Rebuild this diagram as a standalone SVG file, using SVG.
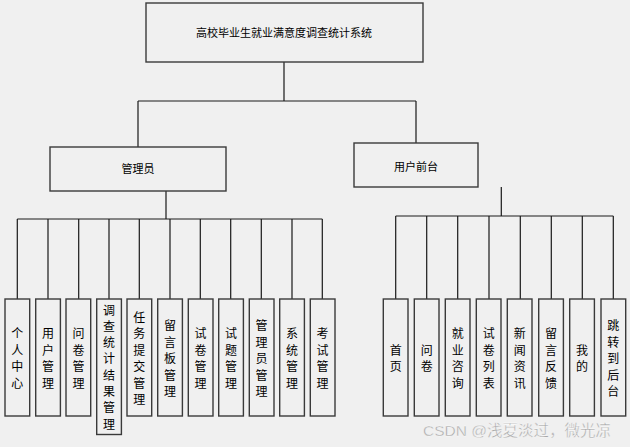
<svg xmlns="http://www.w3.org/2000/svg" width="630" height="447" viewBox="0 0 630 447">
<style>
.bg{fill:#f0f0f0}
.box{fill:#f0f0f0;stroke:#3a3a3a;stroke-width:1.4}
.ln{fill:none;stroke:#1a1a1a;stroke-width:1.2}
.t{font-family:"Noto Sans CJK SC","Liberation Sans",sans-serif;font-size:11px;fill:#000;text-anchor:middle;dominant-baseline:central}
.v{font-family:"Noto Sans CJK SC","Liberation Sans",sans-serif;font-size:12px;fill:#000;text-anchor:middle;dominant-baseline:central}
.wm{font-family:"Liberation Sans","Noto Sans CJK SC",sans-serif;font-size:15.5px;fill:#a8a8a8;stroke:#fff;stroke-width:0.3}
</style>
<rect class="bg" x="0" y="0" width="630" height="447"/>
<g id="connectors">
<path class="ln" d="M284 62V101M138 101H416M138 101V147M416 101V143"/>
<path class="ln" d="M166 191V219M17.3 219H322.3M17.3 219V299M48 219V299M78.7 219V299M109 219V299M139.3 219V299M170 219V299M200.3 219V299M230.7 219V299M261.3 219V299M292 219V299M322.3 219V299"/>
<path class="ln" d="M501.3 187V216M395.7 216H613.3M395.7 216V299M426.7 216V299M457.7 216V299M489 216V299M520.3 216V299M551.3 216V299M582.3 216V299M613.3 216V299"/>
</g>
<g id="root"><rect class="box" x="146" y="3" width="277" height="59"/><text class="t" x="284" y="32">高校毕业生就业满意度调查统计系统</text></g>
<g id="admin"><rect class="box" x="50" y="147" width="176" height="44"/><text class="t" x="138" y="168">管理员</text></g>
<g id="front"><rect class="box" x="354" y="143" width="124" height="44"/><text class="t" x="416" y="165.5">用户前台</text></g>

<g id="a1"><rect class="box" x="5" y="299" width="24.7" height="117"/><text class="v"><tspan x="17.3" y="332">个</tspan><tspan x="17.3" dy="16.5">人</tspan><tspan x="17.3" dy="16.5">中</tspan><tspan x="17.3" dy="16.5">心</tspan></text></g>
<g id="a2"><rect class="box" x="35.7" y="299" width="24.7" height="117"/><text class="v"><tspan x="48" y="332">用</tspan><tspan x="48" dy="16.5">户</tspan><tspan x="48" dy="16.5">管</tspan><tspan x="48" dy="16.5">理</tspan></text></g>
<g id="a3"><rect class="box" x="66" y="299" width="24.7" height="117"/><text class="v"><tspan x="78.4" y="332">问</tspan><tspan x="78.4" dy="16.5">卷</tspan><tspan x="78.4" dy="16.5">管</tspan><tspan x="78.4" dy="16.5">理</tspan></text></g>
<g id="a4"><rect class="box" x="96.7" y="299" width="24.7" height="135.5"/><text class="v"><tspan x="109" y="308.5">调</tspan><tspan x="109" dy="16.3">查</tspan><tspan x="109" dy="16.3">统</tspan><tspan x="109" dy="16.3">计</tspan><tspan x="109" dy="16.3">结</tspan><tspan x="109" dy="16.3">果</tspan><tspan x="109" dy="16.3">管</tspan><tspan x="109" dy="16.3">理</tspan></text></g>
<g id="a5"><rect class="box" x="127" y="299" width="24.7" height="117"/><text class="v"><tspan x="139.3" y="315.5">任</tspan><tspan x="139.3" dy="16.5">务</tspan><tspan x="139.3" dy="16.5">提</tspan><tspan x="139.3" dy="16.5">交</tspan><tspan x="139.3" dy="16.5">管</tspan><tspan x="139.3" dy="16.5">理</tspan></text></g>
<g id="a6"><rect class="box" x="157.7" y="299" width="24.7" height="117"/><text class="v"><tspan x="170" y="324">留</tspan><tspan x="170" dy="16.5">言</tspan><tspan x="170" dy="16.5">板</tspan><tspan x="170" dy="16.5">管</tspan><tspan x="170" dy="16.5">理</tspan></text></g>
<g id="a7"><rect class="box" x="188.3" y="299" width="24.7" height="117"/><text class="v"><tspan x="200.6" y="332">试</tspan><tspan x="200.6" dy="16.5">卷</tspan><tspan x="200.6" dy="16.5">管</tspan><tspan x="200.6" dy="16.5">理</tspan></text></g>
<g id="a8"><rect class="box" x="218.7" y="299" width="24.7" height="117"/><text class="v"><tspan x="231" y="332">试</tspan><tspan x="231" dy="16.5">题</tspan><tspan x="231" dy="16.5">管</tspan><tspan x="231" dy="16.5">理</tspan></text></g>
<g id="a9"><rect class="box" x="249.3" y="299" width="24.7" height="117"/><text class="v"><tspan x="261.6" y="324">管</tspan><tspan x="261.6" dy="16.5">理</tspan><tspan x="261.6" dy="16.5">员</tspan><tspan x="261.6" dy="16.5">管</tspan><tspan x="261.6" dy="16.5">理</tspan></text></g>
<g id="a10"><rect class="box" x="279.7" y="299" width="24.7" height="117"/><text class="v"><tspan x="292" y="332">系</tspan><tspan x="292" dy="16.5">统</tspan><tspan x="292" dy="16.5">管</tspan><tspan x="292" dy="16.5">理</tspan></text></g>
<g id="a11"><rect class="box" x="310.3" y="299" width="24.7" height="117"/><text class="v"><tspan x="322.6" y="332">考</tspan><tspan x="322.6" dy="16.5">试</tspan><tspan x="322.6" dy="16.5">管</tspan><tspan x="322.6" dy="16.5">理</tspan></text></g>

<g id="u1"><rect class="box" x="383.3" y="299" width="24.7" height="117"/><text class="v"><tspan x="395.7" y="348.5">首</tspan><tspan x="395.7" dy="16.5">页</tspan></text></g>
<g id="u2"><rect class="box" x="414.3" y="299" width="24.7" height="117"/><text class="v"><tspan x="426.7" y="348.5">问</tspan><tspan x="426.7" dy="16.5">卷</tspan></text></g>
<g id="u3"><rect class="box" x="445.3" y="299" width="24.7" height="117"/><text class="v"><tspan x="457.7" y="332">就</tspan><tspan x="457.7" dy="16.5">业</tspan><tspan x="457.7" dy="16.5">咨</tspan><tspan x="457.7" dy="16.5">询</tspan></text></g>
<g id="u4"><rect class="box" x="476.3" y="299" width="24.7" height="117"/><text class="v"><tspan x="488.7" y="332">试</tspan><tspan x="488.7" dy="16.5">卷</tspan><tspan x="488.7" dy="16.5">列</tspan><tspan x="488.7" dy="16.5">表</tspan></text></g>
<g id="u5"><rect class="box" x="507.3" y="299" width="24.7" height="117"/><text class="v"><tspan x="519.7" y="332">新</tspan><tspan x="519.7" dy="16.5">闻</tspan><tspan x="519.7" dy="16.5">资</tspan><tspan x="519.7" dy="16.5">讯</tspan></text></g>
<g id="u6"><rect class="box" x="538.7" y="299" width="24.7" height="117"/><text class="v"><tspan x="551" y="332">留</tspan><tspan x="551" dy="16.5">言</tspan><tspan x="551" dy="16.5">反</tspan><tspan x="551" dy="16.5">馈</tspan></text></g>
<g id="u7"><rect class="box" x="569.7" y="299" width="24.7" height="117"/><text class="v"><tspan x="582" y="348.5">我</tspan><tspan x="582" dy="16.5">的</tspan></text></g>
<g id="u8"><rect class="box" x="601" y="299" width="24.7" height="117"/><text class="v"><tspan x="613.3" y="324">跳</tspan><tspan x="613.3" dy="16.5">转</tspan><tspan x="613.3" dy="16.5">到</tspan><tspan x="613.3" dy="16.5">后</tspan><tspan x="613.3" dy="16.5">台</tspan></text></g>

<text class="wm" x="423" y="436">CSDN @浅夏淡过，微光凉</text>
</svg>
